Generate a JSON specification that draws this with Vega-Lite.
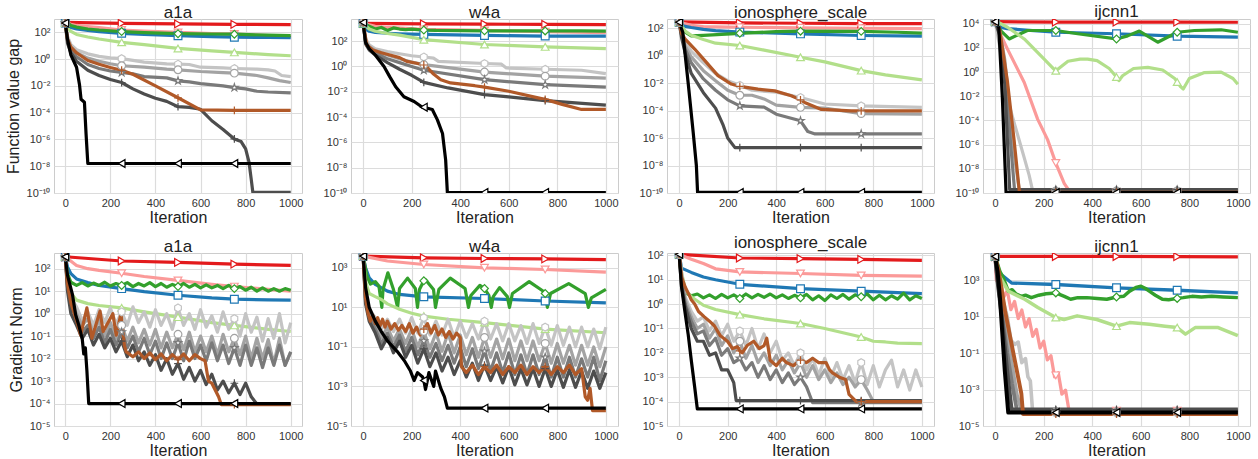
{
"$schema":"https://vega.github.io/schema/vega-lite/v6.json",
"background":"white",
"padding":{"left":4,"top":2,"right":4,"bottom":0},
"datasets":{"d":[
{"p":"A1","s":"a","x":[0,250,500,750,1000],"y":[560,470,430,400,375]},
{"p":"A1","s":"b","x":[0,25,50,100,150,250,350,500,650,750,900,1000],"y":[560,400,330,270,230,150,125,100,82,75,58,47]},
{"p":"A1","s":"c","x":[0,10,25,50,100,150,250,350,500,650,750,900,1000],"y":[500,330,230,180,140,115,85,70,57,48,44,42,41]},
{"p":"A1","s":"d","x":[0,25,50,100,150,250,350,500,650,750,900,1000],"y":[620,330,250,180,150,115,95,80,76,73,62,58]},
{"p":"A1","s":"e","x":[0,10,25,50,100,150,250,350,500,650,750,900,1000],"y":[500,200,120,70,45,32,18,12,6.3,4.2,3.2,2.2,1.8]},
{"p":"A1","s":"f","x":[0,10,25,50,100,150,200,250,350,450,500,550,600,700,750,850,900,930,960,1000],"y":[500,50,12,5,2.5,1.6,1.25,1.1,0.6,0.45,0.42,0.4,0.25,0.22,0.2,0.18,0.16,0.13,0.06,0.05]},
{"p":"A1","s":"g","x":[0,10,25,50,100,150,200,250,350,450,500,600,700,750,850,900,950,1000],"y":[500,35,8,3,1.2,0.7,0.45,0.32,0.25,0.18,0.16,0.12,0.1,0.09,0.06,0.04,0.025,0.018]},
{"p":"A1","s":"h","x":[0,10,25,50,100,150,200,250,300,350,450,500,550,600,700,750,800,850,900,1000],"y":[500,25,5,1.5,0.4,0.2,0.13,0.1,0.08,0.05,0.04,0.024,0.02,0.015,0.01,0.0075,0.006,0.004,0.0035,0.003]},
{"p":"A1","s":"i","x":[0,10,25,50,100,150,200,250,300,350,400,450,500,550,600,650,700,750,780,800,815,825,832,1000],"y":[500,15,3,0.7,0.15,0.06,0.03,0.018,0.006,0.0025,0.0012,0.0007,0.00028,0.00025,0.00018,0.000025,0.0000056,0.0000011,0.0000007,0.0000002,0.00000002,1e-9,1.1e-10,1.1e-10]},
{"p":"A1","s":"j","x":[0,10,25,50,100,150,200,250,300,400,500,600,750,1000],"y":[500,30,8,3,0.8,0.42,0.24,0.15,0.075,0.01,0.0013,0.00016,0.00015,0.00015]},
{"p":"A1","s":"k","x":[0,10,25,50,63,70,85,92,100,250,500,750,1000],"y":[500,30,2,0.25,0.013,0.001,0.0006,0.000003,1.6e-8,1.6e-8,1.6e-8,1.6e-8,1.6e-8]},

{"p":"B1","s":"a","x":[0,250,500,750,1000],"y":[2500,2300,2200,2100,2000]},
{"p":"B1","s":"b","x":[0,50,100,250,500,750,1000],"y":[2500,1500,1200,850,700,550,460]},
{"p":"B1","s":"c","x":[0,10,25,50,100,150,250,500,750,1000],"y":[2500,900,600,480,420,380,340,280,250,250]},
{"p":"B1","s":"d","x":[0,25,50,75,100,125,150,175,200,250,300,400,500,600,750,900,1000],"y":[2500,1500,900,1200,700,1100,900,800,900,750,700,680,650,650,640,640,620]},
{"p":"B1","s":"e","x":[0,25,50,100,150,250,500,750,1000],"y":[2500,900,600,400,300,130,54,35,26]},
{"p":"B1","s":"f","x":[0,10,25,50,100,150,200,250,290,310,500,570,590,750,900,1000],"y":[3000,150,50,25,15,10,7,5.6,4.5,2.5,1.7,1.5,0.75,0.6,0.5,0.27]},
{"p":"B1","s":"g","x":[0,10,25,50,100,150,200,250,500,750,1000],"y":[3000,100,35,18,8,4,2.2,1.4,0.36,0.17,0.12]},
{"p":"B1","s":"h","x":[0,10,25,50,100,150,200,250,500,750,1000],"y":[3000,80,25,12,4,2,1,0.5,0.09,0.036,0.023]},
{"p":"B1","s":"i","x":[0,10,25,50,100,150,200,250,350,500,600,750,1000],"y":[3000,60,20,8,2,0.6,0.2,0.055,0.02,0.006,0.004,0.002,0.00087]},
{"p":"B1","s":"j","x":[0,15,40,75,110,150,180,220,250,260,290,320,360,460,500,600,730,750,820,900,1000],"y":[3000,50,20,12,8,5,2.5,1.8,1.3,1.0,0.25,0.09,0.05,0.03,0.023,0.011,0.003,0.0025,0.001,0.0004,0.0004]},
{"p":"B1","s":"k","x":[0,10,25,50,86,110,134,168,210,244,250,285,306,327,340,347,500,750,1000],"y":[3000,80,25,8,1,0.15,0.025,0.004,0.0017,0.0006,0.0006,0.0004,0.00006,0.000005,4e-8,1.1e-10,1.1e-10,1.1e-10,1.1e-10]},

{"p":"C1","s":"a","x":[0,250,500,750,1000],"y":[280,240,225,215,210]},
{"p":"C1","s":"b","x":[0,50,100,250,500,750,1000],"y":[270,160,130,115,105,98,92]},
{"p":"C1","s":"c","x":[0,10,50,100,150,250,500,750,1000],"y":[270,150,110,80,65,51,38,29,26]},
{"p":"C1","s":"d","x":[0,25,50,100,250,400,500,750,900,1000],"y":[270,50,27,30,42,55,60,58,50,43]},
{"p":"C1","s":"e","x":[0,25,50,100,150,250,350,500,600,750,850,1000],"y":[270,60,30,15,8,5.4,2.5,0.76,0.35,0.08,0.04,0.017]},
{"p":"C1","s":"f","x":[0,25,50,100,150,200,250,300,400,500,600,750,1000],"y":[270,10,2,0.3,0.05,0.015,0.007,0.003,0.0022,0.0009,0.0003,0.00022,0.00017]},
{"p":"C1","s":"g","x":[0,10,25,50,100,150,200,250,300,350,400,500,600,750,1000],"y":[270,40,5,0.8,0.08,0.015,0.003,0.0013,0.0013,0.0007,0.00025,0.00017,0.00015,0.00006,0.000055]},
{"p":"C1","s":"h","x":[0,10,25,50,100,150,200,250,350,400,500,530,560,750,1000],"y":[270,30,3,0.3,0.02,0.003,0.0006,0.00022,0.00018,0.000054,0.000018,0.000003,0.000002,0.000002,0.000002]},
{"p":"C1","s":"i","x":[0,10,25,50,100,150,180,200,230,250,500,750,1000],"y":[270,20,1.5,0.05,0.002,0.00015,0.00001,0.000001,0.0000002,0.0000002,0.0000002,0.0000002,0.0000002]},
{"p":"C1","s":"j","x":[0,10,25,64,106,160,215,250,325,394,462,500,517,586,709,750,1000],"y":[270,40,16,3,0.43,0.035,0.0085,0.0057,0.0036,0.0027,0.0012,0.0006,0.00039,0.00012,0.000095,0.000095,0.000095]},
{"p":"C1","s":"k","x":[0,15,37,58,71,76,250,500,750,1000],"y":[270,50,0.011,0.0000025,1e-8,1.1e-10,1.1e-10,1.1e-10,1.1e-10,1.1e-10]},

{"p":"D1","s":"a","x":[0,250,500,750,1000],"y":[15000,14000,14000,14000,13500]},
{"p":"D1","s":"b","x":[0,10,25,51,120,175,216,250,285,310,500,750,1000],"y":[15000,5000,1000,80,0.14,0.00013,0.0000026,3e-8,6e-10,1.1e-10,1.1e-10,1.1e-10,1.1e-10]},
{"p":"D1","s":"c","x":[0,10,25,50,250,500,750,1000],"y":[15000,8000,5000,4000,2000,1500,950,800]},
{"p":"D1","s":"d","x":[0,10,25,58,133,250,340,500,546,594,670,750,821,931,1000],"y":[15000,6000,2500,560,2800,2800,1500,560,1000,2500,300,2000,2800,3200,2000]},
{"p":"D1","s":"e","x":[0,10,51,120,202,240,250,262,300,350,381,420,470,500,510,525,570,629,690,740,750,765,775,800,860,931,980,1000],"y":[15000,14000,5200,560,12,2,1.3,2,8,12,12,9,2,0.4,0.2,0.5,2,2.5,1.5,0.3,0.15,0.06,0.04,0.3,0.9,1,0.3,0.1]},
{"p":"D1","s":"f","x":[0,20,51,80,100,120,140,155,250,500,750,1000],"y":[15000,100,0.006,5e-5,2e-6,8e-8,3e-9,1.35e-10,1.35e-10,1.35e-10,1.35e-10,1.35e-10]},
{"p":"D1","s":"g","x":[0,20,40,60,80,100,250,500,750,1000],"y":[15000,2000,10,0.001,1e-7,1.5e-10,1.5e-10,1.5e-10,1.5e-10,1.5e-10]},
{"p":"D1","s":"h","x":[0,20,40,60,80,250,500,750,1000],"y":[15000,1500,1,0.00001,1.7e-10,1.7e-10,1.7e-10,1.7e-10,1.7e-10]},
{"p":"D1","s":"i","x":[0,20,40,60,250,500,750,1000],"y":[15000,1000,0.1,1.9e-10,1.9e-10,1.9e-10,1.9e-10,1.9e-10]},
{"p":"D1","s":"j","x":[0,17,51,78,100,250,500,750,1000],"y":[15000,5000,0.15,0.0000025,1.15e-10,1.15e-10,1.15e-10,1.15e-10,1.15e-10]},
{"p":"D1","s":"k","x":[0,15,30,45,250,500,750,1000],"y":[15000,5000,0.006,1.1e-10,1.1e-10,1.1e-10,1.1e-10,1.1e-10]},

{"p":"A2","s":"a","x":[0,250,500,750,1000],"y":[340,220,190,160,140]},
{"p":"A2","s":"b","x":[0,50,100,150,250,350,500,650,750,900,1000],"y":[340,140,100,84,63,45,30,20,16,12,10]},
{"p":"A2","s":"c","x":[0,10,25,50,100,150,250,350,500,650,750,900,1000],"y":[340,120,60,35,24,18,13,9.5,6.6,5,4.4,4.1,4]},
{"p":"A2","s":"d","x":[0,10,25,50,75,100,125,150,175,200,225,250,275,300,325,350,375,400,425,450,475,500,525,550,575,600,625,650,675,700,725,750,775,800,825,850,875,900,925,950,975,1000],"y":[340,60,25,18,24,17,23,18,25,17,22,18,24,16,22,17,24,16,22,15,20,16,22,15,20,14,19,14,18,13,18,13,16,11,15,10,14,10,13,10,13,11]},
{"p":"A2","s":"e","x":[0,10,25,50,100,150,250,350,500,650,750,900,1000],"y":[340,40,8,4,2.8,2.3,1.8,1.2,0.7,0.4,0.3,0.2,0.16]},
{"p":"A2","s":"f","x":[0,10,25,50,75,100,125,150,175,200,225,250,275,300,325,350,375,400,425,450,475,500,525,550,575,600,625,650,675,700,725,750,775,800,825,850,875,900,925,950,975,1000],"y":[340,30,5,2,0.5,1.2,0.3,1.5,0.4,1.8,0.35,1.2,0.3,2,0.4,1.2,0.25,1.5,0.3,1,0.2,1.8,0.3,1.0,0.2,1.5,0.25,0.8,0.15,1.2,0.2,0.6,0.1,1.0,0.15,0.7,0.06,0.6,0.08,1.0,0.05,0.4]},
{"p":"A2","s":"g","x":[0,10,25,50,75,100,125,150,175,200,225,250,275,300,325,350,375,400,425,450,475,500,525,550,575,600,625,650,675,700,725,750,775,800,825,850,875,900,925,950,975,1000],"y":[340,20,3,1,0.3,0.6,0.15,0.5,0.1,0.4,0.08,0.3,0.06,0.25,0.05,0.2,0.04,0.2,0.03,0.15,0.03,0.12,0.025,0.15,0.02,0.1,0.02,0.1,0.015,0.12,0.02,0.08,0.015,0.1,0.01,0.08,0.01,0.07,0.006,0.08,0.005,0.02]},
{"p":"A2","s":"h","x":[0,10,25,50,75,100,125,150,175,200,225,250,275,300,325,350,375,400,425,450,475,500,525,550,575,600,625,650,675,700,725,750,775,800,825,850,875,900,925,950,975,1000],"y":[340,15,2,0.6,0.15,0.3,0.08,0.25,0.05,0.2,0.04,0.15,0.03,0.1,0.02,0.08,0.015,0.06,0.01,0.05,0.01,0.05,0.008,0.06,0.01,0.04,0.008,0.05,0.008,0.04,0.006,0.03,0.005,0.04,0.005,0.03,0.004,0.03,0.005,0.04,0.005,0.02]},
{"p":"A2","s":"i","x":[0,10,25,50,75,100,125,150,175,200,225,250,275,300,325,350,375,400,425,450,475,500,525,550,575,600,625,650,675,700,725,750,775,800,825,850,875,900,925,950,975,1000],"y":[340,10,1,0.3,0.08,0.2,0.04,0.12,0.03,0.08,0.02,0.06,0.012,0.04,0.008,0.02,0.005,0.015,0.003,0.01,0.002,0.006,0.0012,0.004,0.001,0.003,0.0007,0.002,0.0004,0.001,0.0003,0.0008,0.00025,0.0008,0.0002,0.000095,0.000095,0.000095,0.000095,0.000095,0.000095,0.000095]},
{"p":"A2","s":"j","x":[0,10,25,50,68,96,118,154,168,211,226,247,262,270,300,325,350,375,400,425,450,475,500,525,550,575,600,620,635,650,665,680,692,750,1000],"y":[340,20,3,0.5,0.11,1.8,0.08,1.3,0.16,1.0,0.11,1.0,0.04,0.02,0.012,0.02,0.01,0.018,0.009,0.016,0.008,0.015,0.009,0.016,0.008,0.015,0.01,0.008,0.001,0.0008,0.0004,0.0002,0.00009,0.00009,0.00009]},
{"p":"A2","s":"k","x":[0,10,32,46,60,75,82,89,96,104,250,500,750,1000],"y":[340,50,7,0.9,0.3,0.08,0.016,0.03,0.0028,0.0001,0.0001,0.0001,0.0001,0.0001]},

{"p":"B2","s":"a","x":[0,250,500,750,1000],"y":[3900,3200,2950,2800,2600]},
{"p":"B2","s":"b","x":[0,100,250,500,750,1000],"y":[3900,2200,1470,1000,820,600]},
{"p":"B2","s":"c","x":[0,10,25,50,100,150,250,500,750,1000],"y":[3900,1000,310,145,66,45,34,28,21,17]},
{"p":"B2","s":"d","x":[0,15,30,50,65,77,82,102,125,142,150,183,215,224,232,250,257,290,298,312,359,420,434,444,481,500,518,528,536,562,594,603,615,684,747,750,759,772,847,915,928,940,1000],"y":[3900,400,150,200,120,10,80,560,80,10,90,300,90,10,80,220,250,80,10,80,300,90,10,40,130,90,40,10,35,100,35,10,50,200,60,50,10,50,160,50,10,30,80]},
{"p":"B2","s":"e","x":[0,10,25,50,75,100,150,200,250,350,500,750,1000],"y":[3900,200,50,35,25,15,8,5,3.6,2.5,1.7,0.8,0.52]},
{"p":"B2","s":"f","x":[0,10,25,50,75,100,125,150,175,200,225,250,275,300,325,350,375,400,425,450,475,500,525,550,575,600,625,650,675,700,725,750,775,800,825,850,875,900,925,950,975,1000],"y":[3900,50,8,3,0.8,2.5,0.6,2.5,0.5,3,0.5,3,0.4,2,0.4,2.5,0.3,2,0.3,1.5,0.25,2,0.25,1.5,0.2,1.5,0.2,1.2,0.15,1.5,0.15,1,0.12,1.2,0.12,1,0.1,1,0.1,0.8,0.08,1]},
{"p":"B2","s":"g","x":[0,10,25,50,75,100,125,150,175,200,225,250,275,300,325,350,375,400,425,450,475,500,525,550,575,600,625,650,675,700,725,750,775,800,825,850,875,900,925,950,975,1000],"y":[3900,30,5,1.5,0.3,1,0.2,0.8,0.15,0.8,0.1,0.6,0.08,0.5,0.06,0.5,0.05,0.4,0.04,0.3,0.03,0.3,0.03,0.25,0.025,0.25,0.02,0.2,0.02,0.2,0.02,0.15,0.015,0.15,0.015,0.12,0.012,0.12,0.012,0.1,0.01,0.1]},
{"p":"B2","s":"h","x":[0,10,25,50,75,100,125,150,175,200,225,250,275,300,325,350,375,400,425,450,475,500,525,550,575,600,625,650,675,700,725,750,775,800,825,850,875,900,925,950,975,1000],"y":[3900,20,3,0.8,0.15,0.5,0.1,0.4,0.06,0.3,0.04,0.2,0.03,0.15,0.02,0.12,0.015,0.1,0.01,0.08,0.008,0.06,0.006,0.05,0.005,0.05,0.004,0.04,0.004,0.04,0.004,0.03,0.003,0.03,0.003,0.03,0.003,0.025,0.003,0.03,0.002,0.02]},
{"p":"B2","s":"i","x":[0,10,25,50,75,100,125,150,175,200,225,250,275,300,325,350,375,400,425,450,475,500,525,550,575,600,625,650,675,700,725,750,775,800,825,850,875,900,925,950,975,1000],"y":[3900,15,2,0.5,0.08,0.3,0.05,0.2,0.03,0.12,0.015,0.08,0.01,0.05,0.006,0.03,0.004,0.02,0.003,0.015,0.002,0.012,0.002,0.01,0.0015,0.01,0.0012,0.008,0.0012,0.008,0.001,0.008,0.001,0.007,0.0009,0.007,0.0009,0.006,0.0008,0.006,0.0008,0.005]},
{"p":"B2","s":"j","x":[0,10,20,30,40,50,60,70,80,90,100,115,130,145,160,175,190,205,220,235,250,265,280,295,310,325,340,355,370,385,400,405,425,450,475,500,525,550,575,600,625,650,675,700,725,750,775,800,825,850,875,900,915,925,935,945,1000],"y":[3900,30,5,2,4,1.5,3,1.2,2.5,1,2,0.8,1.5,0.7,1.2,0.6,1.5,0.5,1,0.4,0.8,1.5,0.5,1.2,0.4,0.8,0.3,0.6,0.25,0.5,0.3,0.01,0.005,0.012,0.004,0.01,0.005,0.012,0.004,0.01,0.005,0.012,0.004,0.01,0.005,0.01,0.004,0.01,0.005,0.012,0.004,0.008,0.0003,0.0002,0.0008,0.00006,0.00006]},
{"p":"B2","s":"k","x":[0,10,25,50,75,100,140,170,195,210,224,245,250,257,271,291,298,320,335,347,500,750,1000],"y":[3900,100,10,2,0.6,0.2,0.06,0.02,0.006,0.002,0.005,0.003,0.002,0.0007,0.005,0.001,0.006,0.0008,0.0003,0.00008,0.00008,0.00008,0.00008]},

{"p":"C2","s":"a","x":[0,250,500,750,1000],"y":[110,78,73,68,62]},
{"p":"C2","s":"b","x":[0,50,100,150,250,500,750,1000],"y":[110,70,46,28,21,18,15,14]},
{"p":"C2","s":"c","x":[0,10,50,100,150,250,500,750,1000],"y":[110,30,20,13,10,6.5,4.3,3.4,2.7]},
{"p":"C2","s":"d","x":[0,10,25,50,75,100,125,150,175,200,225,250,275,300,325,350,375,400,425,450,475,500,525,550,575,600,625,650,675,700,725,750,775,800,825,850,875,900,925,950,975,1000],"y":[110,10,3,2.2,2.6,1.8,2.4,1.7,2.5,1.8,2.4,1.7,2.6,1.8,2.5,1.9,2.6,1.8,2.4,1.7,2.3,1.8,2.5,1.5,2.2,1.4,2.4,1.7,2.5,1.6,2.4,2.0,2.6,1.5,2.3,1.5,2.2,1.6,2.8,1.5,2.2,1.7]},
{"p":"C2","s":"e","x":[0,10,25,50,100,150,250,350,500,600,750,800,850,900,1000],"y":[110,20,4,2,0.9,0.6,0.37,0.25,0.16,0.1,0.045,0.03,0.028,0.025,0.024]},
{"p":"C2","s":"f","x":[0,10,25,50,75,100,125,150,175,200,225,250,275,300,325,350,375,400,425,450,475,500,525,550,575,600,625,650,675,700,725,750,775,800,825,850,875,900,925,950,975,1000],"y":[110,20,2,0.5,0.2,0.3,0.08,0.2,0.05,0.15,0.03,0.08,0.02,0.1,0.015,0.06,0.01,0.03,0.005,0.01,0.003,0.01,0.002,0.006,0.0012,0.006,0.001,0.004,0.0008,0.003,0.0006,0.004,0.0005,0.003,0.0004,0.002,0.005,0.0004,0.002,0.0003,0.002,0.0004]},
{"p":"C2","s":"g","x":[0,10,25,50,75,100,125,150,175,200,225,250,275,300,325,350,375,400,425,450,475,500,525,550,575,600,625,650,675,700,725,750,775,800,825,850,875,900,925,950,975,1000],"y":[110,15,1.5,0.3,0.1,0.15,0.04,0.1,0.02,0.05,0.01,0.03,0.006,0.02,0.004,0.01,0.003,0.008,0.002,0.005,0.0015,0.004,0.001,0.003,0.0008,0.002,0.0006,0.0015,0.0005,0.001,0.0004,0.0008,0.0003,0.0001,0.0001,0.0001,0.0001,0.0001,0.0001,0.0001,0.0001,0.0001]},
{"p":"C2","s":"h","x":[0,10,25,50,75,100,125,150,175,200,225,250,275,300,325,350,375,400,425,450,475,500,525,550,575,600,625,650,675,700,725,750,775,800,825,850,875,900,925,950,975,1000],"y":[110,10,1,0.2,0.06,0.08,0.02,0.04,0.008,0.015,0.004,0.006,0.002,0.004,0.001,0.003,0.0008,0.002,0.0006,0.0015,0.0005,0.001,0.0004,0.00009,0.00009,0.00009,0.00009,0.00009,0.00009,0.00009,0.00009,0.00009,0.00009,0.00009,0.00009,0.00009,0.00009,0.00009,0.00009,0.00009,0.00009,0.00009]},
{"p":"C2","s":"i","x":[0,10,25,50,75,100,125,150,175,200,225,235,250,500,750,1000],"y":[110,5,0.8,0.1,0.03,0.03,0.008,0.01,0.002,0.002,0.0006,0.00011,0.00011,0.00011,0.00011,0.00011]},
{"p":"C2","s":"j","x":[0,10,25,40,50,64,80,104,125,145,170,199,220,240,250,260,280,307,330,350,361,375,400,425,442,470,500,524,550,575,605,620,632,660,686,700,730,750,1000],"y":[110,13,5,2.5,1.5,1,0.5,0.3,0.2,0.13,0.05,0.03,0.015,0.018,0.012,0.01,0.02,0.03,0.015,0.02,0.04,0.005,0.003,0.006,0.004,0.003,0.005,0.004,0.006,0.004,0.004,0.002,0.0015,0.001,0.0008,0.0002,0.0001,0.0001,0.0001]},
{"p":"C2","s":"k","x":[0,10,23,37,50,64,75,250,500,750,1000],"y":[110,5,0.56,0.06,0.005,0.0004,0.00005,0.00005,0.00005,0.00005,0.00005]},

{"p":"D2","s":"a","x":[0,250,500,750,1000],"y":[20000,20000,20000,19500,19000]},
{"p":"D2","s":"b","x":[0,5,20,35,50,65,80,95,110,125,140,155,170,185,200,215,230,245,250,260,275,290,305,312,500,750,1000],"y":[20000,1000,1300,117,270,24,68,7.9,23,2.7,7.8,0.83,2,0.19,0.45,0.042,0.072,0.0049,0.006,0.0083,0.00056,0.00093,0.000062,0.00007,0.00007,0.00007,0.00007]},
{"p":"D2","s":"c","x":[0,10,68,250,500,750,1000],"y":[20000,3000,700,580,380,280,200]},
{"p":"D2","s":"d","x":[0,20,34,54,70,85,108,125,149,180,210,250,285,311,340,378,420,460,500,530,554,580,601,620,635,660,689,715,750,775,811,850,892,940,1000],"y":[20000,3000,1300,250,300,180,130,150,110,150,180,200,130,90,110,110,100,90,120,130,250,400,470,350,250,150,90,85,100,110,130,120,130,120,110]},
{"p":"D2","s":"e","x":[0,14,54,122,176,250,284,338,419,500,554,635,700,750,784,824,919,1000],"y":[20000,2000,250,90,32,9,7,11,7,3,4.7,3.8,3,2.5,1.1,2.5,2.5,0.9]},
{"p":"D2","s":"f","x":[0,10,30,50,65,81,95,110,125,135,145,155,250,500,750,1000],"y":[20000,2000,100,10,0.5,0.3,0.4,0.03,0.05,0.005,0.003,0.00005,0.00005,0.00005,0.00005,0.00005]},
{"p":"D2","s":"g","x":[0,10,30,50,70,90,110,250,500,750,1000],"y":[20000,1500,30,1,0.02,0.0005,0.00006,0.00006,0.00006,0.00006,0.00006]},
{"p":"D2","s":"h","x":[0,10,30,50,70,90,250,500,750,1000],"y":[20000,1000,10,0.1,0.002,0.00007,0.00007,0.00007,0.00007,0.00007]},
{"p":"D2","s":"i","x":[0,10,30,50,68,250,500,750,1000],"y":[20000,800,5,0.01,0.00008,0.00008,0.00008,0.00008,0.00008]},
{"p":"D2","s":"j","x":[0,15,41,81,108,115,250,500,750,1000],"y":[20000,3000,20,0.04,0.0006,0.000045,0.000045,0.000045,0.000045,0.000045]},
{"p":"D2","s":"k","x":[0,10,20,40,54,250,500,750,1000],"y":[20000,3000,100,0.01,0.000055,0.000055,0.000055,0.000055,0.000055]}
]},
"data":{"name":"d"},
"transform":[{"flatten":["x","y"]}],
"columns":4,
"spacing":{"row":60,"column":49},
"bounds":"flush",
"concat":[
{"width":248,"height":174,"title":{"text":"a1a","dy":5},"transform":[{"filter":"datum.p=='A1'"}],
"encoding":{"x":{"field":"x","type":"quantitative","scale":{"domain":[-50,1050],"nice":false,"zero":false},"axis":{"values":[0,200,400,600,800,1000],"format":"d","title":"Iteration"}},
"y":{"field":"y","type":"quantitative","scale":{"type":"log","domain":[1e-10,1000],"nice":false},"axis":{"values":[1e-10,1e-8,1e-6,1e-4,0.01,1,100],"title":"Function value gap","labelExpr":"'10' + replace(replace(replace(replace(replace(replace(replace(replace(replace(replace(replace(''+round(log(datum.value)/LN10),'-','⁻'),'0','⁰'),'1','¹'),'2','²'),'3','³'),'4','⁴'),'5','⁵'),'6','⁶'),'7','⁷'),'8','⁸'),'9','⁹')"}},
"color":{"field":"s","type":"nominal","legend":null,"scale":{"domain":["a","b","c","d","e","f","g","h","i","j","k"],"range":["#e31a1c","#fb9a99","#1f78b4","#33a02c","#b2df8a","#c4c4c4","#a3a3a3","#7a7a7a","#4d4d4d","#b15928","#000000"]}}},
"layer":[{"mark":{"type":"line","strokeWidth":3.2,"clip":true,"strokeJoin":"round"}},
{"transform":[{"filter":"datum.x==0||datum.x==250||datum.x==500||datum.x==750"}],"mark":{"type":"point","filled":false,"fill":"white","fillOpacity":1,"opacity":1,"size":60,"strokeWidth":1.2,"clip":true},
"encoding":{"shape":{"field":"s","type":"nominal","legend":null,"scale":{"domain":["a","b","c","d","e","f","g","h","i","j","k"],"range":["triangle-right","triangle-down","square","diamond","triangle-up","M0,-1L0.87,-0.5L0.87,0.5L0,1L-0.87,0.5L-0.87,-0.5Z","circle","M0,-1L0.22,-0.31L0.95,-0.31L0.36,0.12L0.59,0.81L0,0.38L-0.59,0.81L-0.36,0.12L-0.95,-0.31L-0.22,-0.31Z","M-1,0L1,0M0,-1L0,1","M-1,0L1,0M0,-1L0,1","triangle-left"]}}}}]},
{"width":267,"height":174,"title":{"text":"w4a","dy":5},"transform":[{"filter":"datum.p=='B1'"}],
"encoding":{"x":{"field":"x","type":"quantitative","scale":{"domain":[-50,1050],"nice":false,"zero":false},"axis":{"values":[0,200,400,600,800,1000],"format":"d","title":"Iteration"}},
"y":{"field":"y","type":"quantitative","scale":{"type":"log","domain":[1e-10,5600],"nice":false},"axis":{"values":[1e-10,1e-8,1e-6,1e-4,0.01,1,100],"title":null,"labelExpr":"'10' + replace(replace(replace(replace(replace(replace(replace(replace(replace(replace(replace(''+round(log(datum.value)/LN10),'-','⁻'),'0','⁰'),'1','¹'),'2','²'),'3','³'),'4','⁴'),'5','⁵'),'6','⁶'),'7','⁷'),'8','⁸'),'9','⁹')"}},
"color":{"field":"s","type":"nominal","legend":null,"scale":{"domain":["a","b","c","d","e","f","g","h","i","j","k"],"range":["#e31a1c","#fb9a99","#1f78b4","#33a02c","#b2df8a","#c4c4c4","#a3a3a3","#7a7a7a","#4d4d4d","#b15928","#000000"]}}},
"layer":[{"mark":{"type":"line","strokeWidth":3.2,"clip":true,"strokeJoin":"round"}},
{"transform":[{"filter":"datum.x==0||datum.x==250||datum.x==500||datum.x==750"}],"mark":{"type":"point","filled":false,"fill":"white","fillOpacity":1,"opacity":1,"size":60,"strokeWidth":1.2,"clip":true},
"encoding":{"shape":{"field":"s","type":"nominal","legend":null,"scale":{"domain":["a","b","c","d","e","f","g","h","i","j","k"],"range":["triangle-right","triangle-down","square","diamond","triangle-up","M0,-1L0.87,-0.5L0.87,0.5L0,1L-0.87,0.5L-0.87,-0.5Z","circle","M0,-1L0.22,-0.31L0.95,-0.31L0.36,0.12L0.59,0.81L0,0.38L-0.59,0.81L-0.36,0.12L-0.95,-0.31L-0.22,-0.31Z","M-1,0L1,0M0,-1L0,1","M-1,0L1,0M0,-1L0,1","triangle-left"]}}}}]},
{"width":267,"height":174,"title":{"text":"ionosphere_scale","dy":5},"transform":[{"filter":"datum.p=='C1'"}],
"encoding":{"x":{"field":"x","type":"quantitative","scale":{"domain":[-50,1050],"nice":false,"zero":false},"axis":{"values":[0,200,400,600,800,1000],"format":"d","title":"Iteration"}},
"y":{"field":"y","type":"quantitative","scale":{"type":"log","domain":[1e-10,460],"nice":false},"axis":{"values":[1e-10,1e-8,1e-6,1e-4,0.01,1,100],"title":null,"labelExpr":"'10' + replace(replace(replace(replace(replace(replace(replace(replace(replace(replace(replace(''+round(log(datum.value)/LN10),'-','⁻'),'0','⁰'),'1','¹'),'2','²'),'3','³'),'4','⁴'),'5','⁵'),'6','⁶'),'7','⁷'),'8','⁸'),'9','⁹')"}},
"color":{"field":"s","type":"nominal","legend":null,"scale":{"domain":["a","b","c","d","e","f","g","h","i","j","k"],"range":["#e31a1c","#fb9a99","#1f78b4","#33a02c","#b2df8a","#c4c4c4","#a3a3a3","#7a7a7a","#4d4d4d","#b15928","#000000"]}}},
"layer":[{"mark":{"type":"line","strokeWidth":3.2,"clip":true,"strokeJoin":"round"}},
{"transform":[{"filter":"datum.x==0||datum.x==250||datum.x==500||datum.x==750"}],"mark":{"type":"point","filled":false,"fill":"white","fillOpacity":1,"opacity":1,"size":60,"strokeWidth":1.2,"clip":true},
"encoding":{"shape":{"field":"s","type":"nominal","legend":null,"scale":{"domain":["a","b","c","d","e","f","g","h","i","j","k"],"range":["triangle-right","triangle-down","square","diamond","triangle-up","M0,-1L0.87,-0.5L0.87,0.5L0,1L-0.87,0.5L-0.87,-0.5Z","circle","M0,-1L0.22,-0.31L0.95,-0.31L0.36,0.12L0.59,0.81L0,0.38L-0.59,0.81L-0.36,0.12L-0.95,-0.31L-0.22,-0.31Z","M-1,0L1,0M0,-1L0,1","M-1,0L1,0M0,-1L0,1","triangle-left"]}}}}]},
{"width":267,"height":174,"title":{"text":"ijcnn1","dy":5},"transform":[{"filter":"datum.p=='D1'"}],
"encoding":{"x":{"field":"x","type":"quantitative","scale":{"domain":[-50,1050],"nice":false,"zero":false},"axis":{"values":[0,200,400,600,800,1000],"format":"d","title":"Iteration"}},
"y":{"field":"y","type":"quantitative","scale":{"type":"log","domain":[1e-10,25000],"nice":false},"axis":{"values":[1e-10,1e-8,1e-6,1e-4,0.01,1,100,10000],"title":null,"labelExpr":"'10' + replace(replace(replace(replace(replace(replace(replace(replace(replace(replace(replace(''+round(log(datum.value)/LN10),'-','⁻'),'0','⁰'),'1','¹'),'2','²'),'3','³'),'4','⁴'),'5','⁵'),'6','⁶'),'7','⁷'),'8','⁸'),'9','⁹')"}},
"color":{"field":"s","type":"nominal","legend":null,"scale":{"domain":["a","b","c","d","e","f","g","h","i","j","k"],"range":["#e31a1c","#fb9a99","#1f78b4","#33a02c","#b2df8a","#c4c4c4","#a3a3a3","#7a7a7a","#4d4d4d","#b15928","#000000"]}}},
"layer":[{"mark":{"type":"line","strokeWidth":3.2,"clip":true,"strokeJoin":"round"}},
{"transform":[{"filter":"datum.x==0||datum.x==250||datum.x==500||datum.x==750"}],"mark":{"type":"point","filled":false,"fill":"white","fillOpacity":1,"opacity":1,"size":60,"strokeWidth":1.2,"clip":true},
"encoding":{"shape":{"field":"s","type":"nominal","legend":null,"scale":{"domain":["a","b","c","d","e","f","g","h","i","j","k"],"range":["triangle-right","triangle-down","square","diamond","triangle-up","M0,-1L0.87,-0.5L0.87,0.5L0,1L-0.87,0.5L-0.87,-0.5Z","circle","M0,-1L0.22,-0.31L0.95,-0.31L0.36,0.12L0.59,0.81L0,0.38L-0.59,0.81L-0.36,0.12L-0.95,-0.31L-0.22,-0.31Z","M-1,0L1,0M0,-1L0,1","M-1,0L1,0M0,-1L0,1","triangle-left"]}}}}]},
{"width":248,"height":173,"title":{"text":"a1a","dy":5},"transform":[{"filter":"datum.p=='A2'"}],
"encoding":{"x":{"field":"x","type":"quantitative","scale":{"domain":[-50,1050],"nice":false,"zero":false},"axis":{"values":[0,200,400,600,800,1000],"format":"d","title":"Iteration"}},
"y":{"field":"y","type":"quantitative","scale":{"type":"log","domain":[1e-5,500],"nice":false},"axis":{"values":[1e-5,1e-4,1e-3,0.01,0.1,1,10,100],"title":"Gradient Norm","labelExpr":"'10' + replace(replace(replace(replace(replace(replace(replace(replace(replace(replace(replace(''+round(log(datum.value)/LN10),'-','⁻'),'0','⁰'),'1','¹'),'2','²'),'3','³'),'4','⁴'),'5','⁵'),'6','⁶'),'7','⁷'),'8','⁸'),'9','⁹')"}},
"color":{"field":"s","type":"nominal","legend":null,"scale":{"domain":["a","b","c","d","e","f","g","h","i","j","k"],"range":["#e31a1c","#fb9a99","#1f78b4","#33a02c","#b2df8a","#c4c4c4","#a3a3a3","#7a7a7a","#4d4d4d","#b15928","#000000"]}},
"strokeWidth":{"field":"s","type":"nominal","legend":null,"scale":{"domain":["a","b","c","d","e","f","g","h","i","j","k"],"range":[3.2,3.2,3.2,3.2,3.2,4.5,4.5,4.5,4.5,4,3.2]}}},
"layer":[{"mark":{"type":"line","clip":true,"strokeJoin":"round"}},
{"transform":[{"filter":"datum.x==0||datum.x==250||datum.x==500||datum.x==750"}],"mark":{"type":"point","filled":false,"fill":"white","fillOpacity":1,"opacity":1,"size":60,"strokeWidth":1.2,"clip":true},
"encoding":{"strokeWidth":{"value":1.2},"shape":{"field":"s","type":"nominal","legend":null,"scale":{"domain":["a","b","c","d","e","f","g","h","i","j","k"],"range":["triangle-right","triangle-down","square","diamond","triangle-up","M0,-1L0.87,-0.5L0.87,0.5L0,1L-0.87,0.5L-0.87,-0.5Z","circle","M0,-1L0.22,-0.31L0.95,-0.31L0.36,0.12L0.59,0.81L0,0.38L-0.59,0.81L-0.36,0.12L-0.95,-0.31L-0.22,-0.31Z","M-1,0L1,0M0,-1L0,1","M-1,0L1,0M0,-1L0,1","triangle-left"]}}}}]},
{"width":267,"height":173,"title":{"text":"w4a","dy":5},"transform":[{"filter":"datum.p=='B2'"}],
"encoding":{"x":{"field":"x","type":"quantitative","scale":{"domain":[-50,1050],"nice":false,"zero":false},"axis":{"values":[0,200,400,600,800,1000],"format":"d","title":"Iteration"}},
"y":{"field":"y","type":"quantitative","scale":{"type":"log","domain":[1e-5,5600],"nice":false},"axis":{"values":[1e-5,1e-3,0.1,10,1000],"title":null,"labelExpr":"'10' + replace(replace(replace(replace(replace(replace(replace(replace(replace(replace(replace(''+round(log(datum.value)/LN10),'-','⁻'),'0','⁰'),'1','¹'),'2','²'),'3','³'),'4','⁴'),'5','⁵'),'6','⁶'),'7','⁷'),'8','⁸'),'9','⁹')"}},
"color":{"field":"s","type":"nominal","legend":null,"scale":{"domain":["a","b","c","d","e","f","g","h","i","j","k"],"range":["#e31a1c","#fb9a99","#1f78b4","#33a02c","#b2df8a","#c4c4c4","#a3a3a3","#7a7a7a","#4d4d4d","#b15928","#000000"]}},
"strokeWidth":{"field":"s","type":"nominal","legend":null,"scale":{"domain":["a","b","c","d","e","f","g","h","i","j","k"],"range":[3.2,3.2,3.2,3.2,3.2,4.5,4.5,4.5,4.5,4,3.2]}}},
"layer":[{"mark":{"type":"line","clip":true,"strokeJoin":"round"}},
{"transform":[{"filter":"datum.x==0||datum.x==250||datum.x==500||datum.x==750"}],"mark":{"type":"point","filled":false,"fill":"white","fillOpacity":1,"opacity":1,"size":60,"strokeWidth":1.2,"clip":true},
"encoding":{"strokeWidth":{"value":1.2},"shape":{"field":"s","type":"nominal","legend":null,"scale":{"domain":["a","b","c","d","e","f","g","h","i","j","k"],"range":["triangle-right","triangle-down","square","diamond","triangle-up","M0,-1L0.87,-0.5L0.87,0.5L0,1L-0.87,0.5L-0.87,-0.5Z","circle","M0,-1L0.22,-0.31L0.95,-0.31L0.36,0.12L0.59,0.81L0,0.38L-0.59,0.81L-0.36,0.12L-0.95,-0.31L-0.22,-0.31Z","M-1,0L1,0M0,-1L0,1","M-1,0L1,0M0,-1L0,1","triangle-left"]}}}}]},
{"width":267,"height":173,"title":{"text":"ionosphere_scale","dy":5},"transform":[{"filter":"datum.p=='C2'"}],
"encoding":{"x":{"field":"x","type":"quantitative","scale":{"domain":[-50,1050],"nice":false,"zero":false},"axis":{"values":[0,200,400,600,800,1000],"format":"d","title":"Iteration"}},
"y":{"field":"y","type":"quantitative","scale":{"type":"log","domain":[1e-5,125],"nice":false},"axis":{"values":[1e-5,1e-4,1e-3,0.01,0.1,1,10,100],"title":null,"labelExpr":"'10' + replace(replace(replace(replace(replace(replace(replace(replace(replace(replace(replace(''+round(log(datum.value)/LN10),'-','⁻'),'0','⁰'),'1','¹'),'2','²'),'3','³'),'4','⁴'),'5','⁵'),'6','⁶'),'7','⁷'),'8','⁸'),'9','⁹')"}},
"color":{"field":"s","type":"nominal","legend":null,"scale":{"domain":["a","b","c","d","e","f","g","h","i","j","k"],"range":["#e31a1c","#fb9a99","#1f78b4","#33a02c","#b2df8a","#c4c4c4","#a3a3a3","#7a7a7a","#4d4d4d","#b15928","#000000"]}},
"strokeWidth":{"field":"s","type":"nominal","legend":null,"scale":{"domain":["a","b","c","d","e","f","g","h","i","j","k"],"range":[3.2,3.2,3.2,3.2,3.2,4.5,4.5,4.5,4.5,4,3.2]}}},
"layer":[{"mark":{"type":"line","clip":true,"strokeJoin":"round"}},
{"transform":[{"filter":"datum.x==0||datum.x==250||datum.x==500||datum.x==750"}],"mark":{"type":"point","filled":false,"fill":"white","fillOpacity":1,"opacity":1,"size":60,"strokeWidth":1.2,"clip":true},
"encoding":{"strokeWidth":{"value":1.2},"shape":{"field":"s","type":"nominal","legend":null,"scale":{"domain":["a","b","c","d","e","f","g","h","i","j","k"],"range":["triangle-right","triangle-down","square","diamond","triangle-up","M0,-1L0.87,-0.5L0.87,0.5L0,1L-0.87,0.5L-0.87,-0.5Z","circle","M0,-1L0.22,-0.31L0.95,-0.31L0.36,0.12L0.59,0.81L0,0.38L-0.59,0.81L-0.36,0.12L-0.95,-0.31L-0.22,-0.31Z","M-1,0L1,0M0,-1L0,1","M-1,0L1,0M0,-1L0,1","triangle-left"]}}}}]},
{"width":267,"height":173,"title":{"text":"ijcnn1","dy":5},"transform":[{"filter":"datum.p=='D2'"}],
"encoding":{"x":{"field":"x","type":"quantitative","scale":{"domain":[-50,1050],"nice":false,"zero":false},"axis":{"values":[0,200,400,600,800,1000],"format":"d","title":"Iteration"}},
"y":{"field":"y","type":"quantitative","scale":{"type":"log","domain":[1e-5,31000],"nice":false},"axis":{"values":[1e-5,1e-3,0.1,10,1000],"title":null,"labelExpr":"'10' + replace(replace(replace(replace(replace(replace(replace(replace(replace(replace(replace(''+round(log(datum.value)/LN10),'-','⁻'),'0','⁰'),'1','¹'),'2','²'),'3','³'),'4','⁴'),'5','⁵'),'6','⁶'),'7','⁷'),'8','⁸'),'9','⁹')"}},
"color":{"field":"s","type":"nominal","legend":null,"scale":{"domain":["a","b","c","d","e","f","g","h","i","j","k"],"range":["#e31a1c","#fb9a99","#1f78b4","#33a02c","#b2df8a","#c4c4c4","#a3a3a3","#7a7a7a","#4d4d4d","#b15928","#000000"]}},
"strokeWidth":{"field":"s","type":"nominal","legend":null,"scale":{"domain":["a","b","c","d","e","f","g","h","i","j","k"],"range":[3.2,4,3.2,3.2,3.2,4,3.2,3.2,3.2,3.2,3.2]}}},
"layer":[{"mark":{"type":"line","clip":true,"strokeJoin":"round"}},
{"transform":[{"filter":"datum.x==0||datum.x==250||datum.x==500||datum.x==750"}],"mark":{"type":"point","filled":false,"fill":"white","fillOpacity":1,"opacity":1,"size":60,"strokeWidth":1.2,"clip":true},
"encoding":{"strokeWidth":{"value":1.2},"shape":{"field":"s","type":"nominal","legend":null,"scale":{"domain":["a","b","c","d","e","f","g","h","i","j","k"],"range":["triangle-right","triangle-down","square","diamond","triangle-up","M0,-1L0.87,-0.5L0.87,0.5L0,1L-0.87,0.5L-0.87,-0.5Z","circle","M0,-1L0.22,-0.31L0.95,-0.31L0.36,0.12L0.59,0.81L0,0.38L-0.59,0.81L-0.36,0.12L-0.95,-0.31L-0.22,-0.31Z","M-1,0L1,0M0,-1L0,1","M-1,0L1,0M0,-1L0,1","triangle-left"]}}}}]}
],
"resolve":{"scale":{"strokeWidth":"independent"}},
"config":{
"font":"Liberation Sans",
"view":{"stroke":"#cccccc","strokeWidth":1},
"axis":{"domain":false,"ticks":false,"gridColor":"#dcdcdc","gridWidth":1.2,"labelFontSize":11,"labelColor":"#333333","titleFontSize":16,"titleFontWeight":"normal","titleColor":"#222222","labelPadding":4},
"axisX":{"titlePadding":1},
"axisY":{"titlePadding":5},
"title":{"fontSize":17,"fontWeight":"normal","offset":2,"frame":"group","baseline":"alphabetic","color":"#222222"}
}
}
